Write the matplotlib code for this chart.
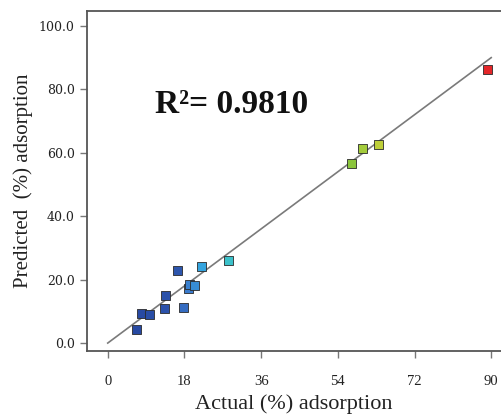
import matplotlib
matplotlib.use("Agg")
import matplotlib.pyplot as plt
from matplotlib.colors import LinearSegmentedColormap, Normalize

actual = [6.8, 8.0, 9.9, 13.4, 13.6, 17.9, 16.4, 18.9, 19.3, 20.3, 21.9, 28.3, 57.3, 59.9, 63.5, 89.1]
predicted = [4.4, 9.4, 9.1, 10.9, 14.9, 11.3, 23.0, 17.3, 18.5, 18.1, 24.1, 25.9, 56.7, 61.4, 62.5, 86.4]
xticks = [0, 18, 36, 54, 72, 90]
yticks = [0.0, 20.0, 40.0, 60.0, 80.0, 100.0]
r2_text = "R²= 0.9810"

serif = ["Liberation Serif", "DejaVu Serif"]
plt.rcParams["font.family"] = serif

fig = plt.figure(figsize=(5.01, 4.19), dpi=100)
ax = fig.add_axes([0.1737, 0.1623, 0.8263, 0.8114])

cmap = LinearSegmentedColormap.from_list("c", [
    (0.0, "#23409a"), (0.18, "#2d55ad"), (0.205, "#3a78cc"), (0.245, "#34a6e0"),
    (0.32, "#3cc4c8"), (0.62, "#80c23c"), (0.70, "#bcd23a"), (0.88, "#f07820"), (1.0, "#e3202a")])
norm = Normalize(0, 90)

ax.plot([0, 90], [0, 90], color="#7a7a7a", lw=1.2, zorder=1)
ax.scatter(actual, predicted, marker="s", s=42, c=actual, cmap=cmap, norm=norm,
           edgecolors="#2a2a2a", linewidths=0.6, zorder=3)

ax.set_xlim(-4.86, 92.3)
ax.set_ylim(-2.5, 104.7)
ax.set_xticks(xticks)
ax.set_xticklabels([str(v) for v in xticks], fontsize=10.5, family=serif)
ax.set_yticks(yticks)
ax.set_yticklabels([f"{v:.1f}" for v in yticks], fontsize=9, family=["DejaVu Serif"])

for s in ["left", "top", "bottom"]:
    ax.spines[s].set_color("#555555")
    ax.spines[s].set_linewidth(1.3)
ax.spines["right"].set_visible(False)
ax.tick_params(direction="out", length=5, width=1, color="#777777",
               labelcolor="#222222", pad=4)
ax.tick_params(axis="x", pad=12)

ax.set_xlabel("Actual (%) adsorption", fontsize=16, color="#222222", labelpad=5)
ax.set_ylabel("Predicted  (%) adsorption", fontsize=15, color="#222222", labelpad=4)

ax.text(0.164, 0.726, r2_text, transform=ax.transAxes, fontsize=24, fontweight="bold",
        color="#111111", ha="left", va="center")

fig.savefig("out.png", dpi=100)
